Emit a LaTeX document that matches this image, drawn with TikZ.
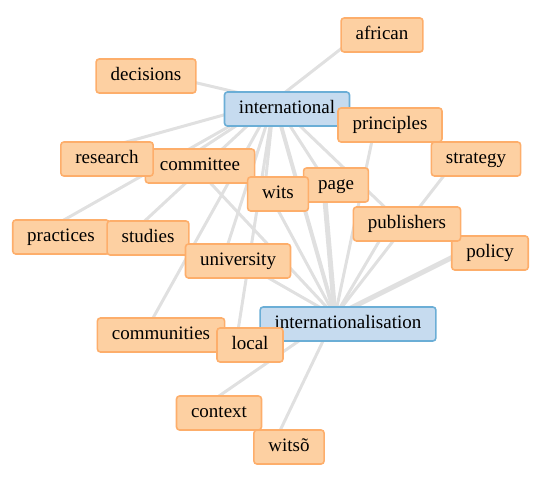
\documentclass[tikz,border=0pt]{standalone}
\usepackage{fontspec}
\setmainfont{Liberation Serif}
\usepackage{xcolor}
\usepackage{tikz}

\definecolor{wordfill}{HTML}{FDD0A2}
\definecolor{wordline}{HTML}{FDAE6B}
\definecolor{hubfill}{HTML}{C6DBEF}
\definecolor{hubline}{HTML}{6BAED6}
\definecolor{linkgray}{HTML}{E0E0E0}

\pgfdeclarelayer{background}
\pgfsetlayers{background,main}

\begin{document}
\begin{tikzpicture}[x=1pt,y=-1pt,
  word/.style={draw=wordline,fill=wordfill,line width=1.6pt,rounded corners=3pt,
    inner xsep=14.5pt,inner ysep=0pt,minimum height=34pt,
    text height=12.5pt,text depth=4pt,font=\fontsize{19}{22}\selectfont},
  hub/.style={word,draw=hubline,fill=hubfill},
  link/.style={linkgray,line width=3pt},
  heavy/.style={linkgray,line width=5pt}]
\useasboundingbox (0,0) rectangle (555,479);

% the two hubs and the words round them
\node[hub] (intl) at (287,109) {international};
\node[word] (principles) at (390,125) {principles};
\node[word] (african) at (382,35) {african};
\node[word] (decisions) at (146,76) {decisions};
\node[word] (committee) at (200,166) {committee};
\node[word] (research) at (107,159) {research};
\node[word] (page) at (336,185) {page};
\node[word] (wits) at (278,194) {wits};
\node[word] (strategy) at (476,159) {strategy};
\node[word] (policy) at (490,253) {policy};
\node[word] (publishers) at (407,224) {publishers};
\node[word] (practices) at (61,237) {practices};
\node[word] (studies) at (148,238) {studies};
\node[word] (university) at (238,261) {university};
\node[hub] (intlsn) at (348,324) {internationalisation};
\node[word] (communities) at (161,335) {communities};
\node[word] (local) at (250,345) {local};
\node[word] (context) at (219,413) {context};
\node[word] (witso) at (289,447) {witsõ};

% links, drawn behind the boxes
\begin{pgfonlayer}{background}
\foreach \w in {african,decisions,research,practices,committee,studies,communities,university,local,wits,page,publishers}
  \draw[link] ([shift={(-13pt,8pt)}]intl.center) -- ([shift={(-13pt,8pt)}]\w.center);
\foreach \w in {committee,university,wits,principles,strategy,publishers,local,context,witso}
  \draw[link] ([shift={(-13pt,8pt)}]intlsn.center) -- ([shift={(-13pt,8pt)}]\w.center);
\draw[heavy] ([shift={(-13pt,8pt)}]intlsn.center) -- ([shift={(-13pt,8pt)}]page.center);
\draw[heavy] ([shift={(-13pt,8pt)}]intlsn.center) -- ([shift={(-13pt,8pt)}]policy.center);
\draw[link,line width=4pt] ([shift={(-13pt,8pt)}]intl.center) -- ([shift={(-13pt,8pt)}]intlsn.center);
\end{pgfonlayer}
\end{tikzpicture}
\end{document}
